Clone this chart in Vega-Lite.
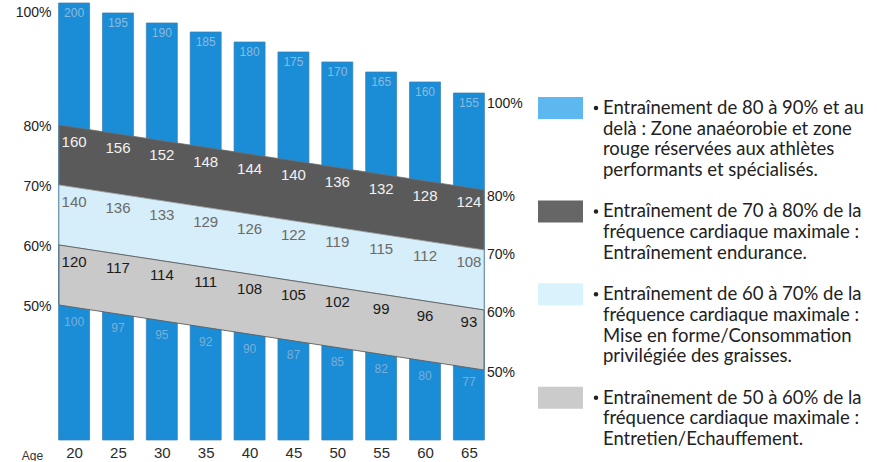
{
  "$schema": "https://vega.github.io/schema/vega-lite/v6.json",
  "background": "white",
  "padding": 0,
  "spacing": 15,
  "config": {"view": {"stroke": null}, "font": "Liberation Sans"},
  "datasets": {
    "ages": [
      {"age": 20, "max": 200, "z80": 160, "z70": 140, "z60": 120, "z50": 100, "top": 100.33, "b80": 79.62, "b70": 69.62, "b60": 59.62, "b50": 49.62},
      {"age": 25, "max": 195, "z80": 156, "z70": 136, "z60": 117, "z50": 97, "top": 98.67, "b80": 78.5, "b70": 68.5, "b60": 58.5, "b50": 48.5},
      {"age": 30, "max": 190, "z80": 152, "z70": 133, "z60": 114, "z50": 95, "top": 97.0, "b80": 77.38, "b70": 67.38, "b60": 57.38, "b50": 47.38},
      {"age": 35, "max": 185, "z80": 148, "z70": 129, "z60": 111, "z50": 92, "top": 95.5, "b80": 76.26, "b70": 66.26, "b60": 56.26, "b50": 46.26},
      {"age": 40, "max": 180, "z80": 144, "z70": 126, "z60": 108, "z50": 90, "top": 93.83, "b80": 75.14, "b70": 65.14, "b60": 55.14, "b50": 45.14},
      {"age": 45, "max": 175, "z80": 140, "z70": 122, "z60": 105, "z50": 87, "top": 92.17, "b80": 74.02, "b70": 64.02, "b60": 54.02, "b50": 44.02},
      {"age": 50, "max": 170, "z80": 136, "z70": 119, "z60": 102, "z50": 85, "top": 90.5, "b80": 72.9, "b70": 62.9, "b60": 52.9, "b50": 42.9},
      {"age": 55, "max": 165, "z80": 132, "z70": 115, "z60": 99, "z50": 82, "top": 88.83, "b80": 71.78, "b70": 61.78, "b60": 51.78, "b50": 41.78},
      {"age": 60, "max": 160, "z80": 128, "z70": 112, "z60": 96, "z50": 80, "top": 87.17, "b80": 70.66, "b70": 60.66, "b60": 50.66, "b50": 40.66},
      {"age": 65, "max": 155, "z80": 124, "z70": 108, "z60": 93, "z50": 77, "top": 85.33, "b80": 69.54, "b70": 59.54, "b60": 49.54, "b50": 39.54}
    ],
    "bands": [
      {"age": 18.28, "b80": 80, "b70": 70, "b60": 60, "b50": 50},
      {"age": 66.72, "b80": 69.17, "b70": 59.17, "b60": 49.17, "b50": 39.17}
    ],
    "rightLabels": [
      {"age": 66.72, "level": 83.5, "label": "100%"},
      {"age": 66.72, "level": 68.0, "label": "80%"},
      {"age": 66.72, "level": 58.33, "label": "70%"},
      {"age": 66.72, "level": 48.67, "label": "60%"},
      {"age": 66.72, "level": 38.67, "label": "50%"}
    ],
    "entries": [
      {"entry": 1, "line": 0, "zone": "80-90%"},
      {"entry": 2, "line": 5, "zone": "70-80%"},
      {"entry": 3, "line": 9, "zone": "60-70%"},
      {"entry": 4, "line": 14, "zone": "50-60%"}
    ],
    "lines": [
      {"entry": 1, "line": 0, "text": "Entraînement de 80 à 90% et au"},
      {"entry": 1, "line": 1, "text": "delà : Zone anaéorobie et zone"},
      {"entry": 1, "line": 2, "text": "rouge réservées aux athlètes"},
      {"entry": 1, "line": 3, "text": "performants et spécialisés."},
      {"entry": 2, "line": 5, "text": "Entraînement de 70 à 80% de la"},
      {"entry": 2, "line": 6, "text": "fréquence cardiaque maximale :"},
      {"entry": 2, "line": 7, "text": "Entraînement endurance."},
      {"entry": 3, "line": 9, "text": "Entraînement de 60 à 70% de la"},
      {"entry": 3, "line": 10, "text": "fréquence cardiaque maximale :"},
      {"entry": 3, "line": 11, "text": "Mise en forme/Consommation"},
      {"entry": 3, "line": 12, "text": "privilégiée des graisses."},
      {"entry": 4, "line": 14, "text": "Entraînement de 50 à 60% de la"},
      {"entry": 4, "line": 15, "text": "fréquence cardiaque maximale :"},
      {"entry": 4, "line": 16, "text": "Entretien/Echauffement."}
    ]
  },
  "hconcat": [
    {
      "width": 435,
      "height": 440,
      "layer": [
        {
          "data": {"name": "ages"},
          "mark": {"type": "bar", "size": 31, "fill": "#1b8dd6", "stroke": "#3a7db0", "strokeWidth": 0.7},
          "encoding": {
            "x": {"field": "age", "type": "quantitative",
              "scale": {"domain": [18.28, 66.72], "nice": false, "zero": false},
              "axis": {"values": [20, 25, 30, 35, 40, 45, 50, 55, 60, 65], "domain": false, "ticks": false, "grid": false,
                "labelPadding": 5, "labelFontSize": 15, "labelColor": "#2b2b2b", "labelFont": "Liberation Sans",
                "title": "Age", "titleFontSize": 12, "titleFontWeight": "normal", "titleFont": "Liberation Sans",
                "titleX": -22, "titleY": 15, "titleAlign": "center", "titleBaseline": "middle", "titleColor": "#333"}},
            "y": {"field": "top", "type": "quantitative",
              "scale": {"domain": [27.5, 100.83], "nice": false, "zero": false},
              "axis": {"values": [50, 60, 70, 80, 99], "labelExpr": "datum.value > 90 ? '100%' : datum.value + '%'",
                "domain": false, "ticks": false, "grid": false, "labelPadding": 3, "labelFontSize": 14,
                "labelColor": "#222", "labelOffset": 2, "title": null, "minExtent": 54, "maxExtent": 54}},
            "y2": {"datum": 27.5}
          }
        },
        {
          "data": {"name": "ages"},
          "mark": {"type": "text", "dy": 10, "fontSize": 12, "fill": "#8db9dc", "baseline": "middle", "align": "center"},
          "encoding": {
            "x": {"field": "age", "type": "quantitative"},
            "y": {"field": "top", "type": "quantitative"},
            "text": {"field": "max", "type": "nominal"}
          }
        },
        {
          "data": {"name": "ages"},
          "mark": {"type": "text", "dy": 14.5, "fontSize": 12, "fill": "#7aaed6", "baseline": "middle", "align": "center"},
          "encoding": {
            "x": {"field": "age", "type": "quantitative"},
            "y": {"field": "b50", "type": "quantitative"},
            "text": {"field": "z50", "type": "nominal"}
          }
        },
        {
          "data": {"name": "bands"},
          "mark": {"type": "area", "fill": "#5a5a5a", "stroke": "#6e6e6e", "strokeWidth": 0.8},
          "encoding": {
            "x": {"field": "age", "type": "quantitative"},
            "y": {"field": "b80", "type": "quantitative"},
            "y2": {"field": "b70"}
          }
        },
        {
          "data": {"name": "bands"},
          "mark": {"type": "area", "fill": "#d5eef9", "stroke": "#9a9a9a", "strokeWidth": 0.8},
          "encoding": {
            "x": {"field": "age", "type": "quantitative"},
            "y": {"field": "b70", "type": "quantitative"},
            "y2": {"field": "b60"}
          }
        },
        {
          "data": {"name": "bands"},
          "mark": {"type": "area", "fill": "#c9c9c9", "stroke": "#5e5e5e", "strokeWidth": 0.9},
          "encoding": {
            "x": {"field": "age", "type": "quantitative"},
            "y": {"field": "b60", "type": "quantitative"},
            "y2": {"field": "b50"}
          }
        },
        {
          "data": {"name": "ages"},
          "mark": {"type": "text", "dy": 14.5, "fontSize": 15, "fill": "#f2f2f2", "baseline": "middle", "align": "center"},
          "encoding": {
            "x": {"field": "age", "type": "quantitative"},
            "y": {"field": "b80", "type": "quantitative"},
            "text": {"field": "z80", "type": "nominal"}
          }
        },
        {
          "data": {"name": "ages"},
          "mark": {"type": "text", "dy": 14.5, "fontSize": 15, "fill": "#6a6a6a", "baseline": "middle", "align": "center"},
          "encoding": {
            "x": {"field": "age", "type": "quantitative"},
            "y": {"field": "b70", "type": "quantitative"},
            "text": {"field": "z70", "type": "nominal"}
          }
        },
        {
          "data": {"name": "ages"},
          "mark": {"type": "text", "dy": 14.5, "fontSize": 15, "fill": "#1a1a1a", "baseline": "middle", "align": "center"},
          "encoding": {
            "x": {"field": "age", "type": "quantitative"},
            "y": {"field": "b60", "type": "quantitative"},
            "text": {"field": "z60", "type": "nominal"}
          }
        },
        {
          "data": {"name": "rightLabels"},
          "mark": {"type": "text", "dx": 3, "fontSize": 14, "fill": "#222", "baseline": "middle", "align": "left"},
          "encoding": {
            "x": {"field": "age", "type": "quantitative"},
            "y": {"field": "level", "type": "quantitative"},
            "text": {"field": "label", "type": "nominal"}
          }
        }
      ]
    },
    {
      "width": 337,
      "height": 440,
      "layer": [
        {
          "data": {"name": "entries"},
          "mark": {"type": "point", "shape": "M-1,-0.49H1V0.49H-1Z", "filled": true, "size": 2025, "opacity": 1, "strokeWidth": 0},
          "encoding": {
            "x": {"datum": 22.5, "type": "quantitative", "scale": {"domain": [0, 337], "nice": false, "zero": false}, "axis": null},
            "y": {"field": "line", "type": "quantitative", "scale": {"domain": [-5.217, 16.039], "reverse": true, "nice": false, "zero": false}, "axis": null},
            "color": {"field": "zone", "type": "nominal", "scale": {"domain": ["80-90%", "70-80%", "60-70%", "50-60%"], "range": ["#5cb8ee", "#666666", "#d8f3fb", "#cbcbcb"]}, "legend": null}
          }
        },
        {
          "data": {"name": "entries"},
          "mark": {"type": "point", "shape": "circle", "filled": true, "size": 20, "fill": "#222", "opacity": 1},
          "encoding": {
            "x": {"datum": 58, "type": "quantitative"},
            "y": {"field": "line", "type": "quantitative"}
          }
        },
        {
          "data": {"name": "lines"},
          "mark": {"type": "text", "align": "left", "baseline": "middle", "font": "Lato", "fontSize": 18.5, "fill": "#222"},
          "encoding": {
            "x": {"datum": 65, "type": "quantitative"},
            "y": {"field": "line", "type": "quantitative"},
            "text": {"field": "text", "type": "nominal"}
          }
        }
      ]
    }
  ]
}
